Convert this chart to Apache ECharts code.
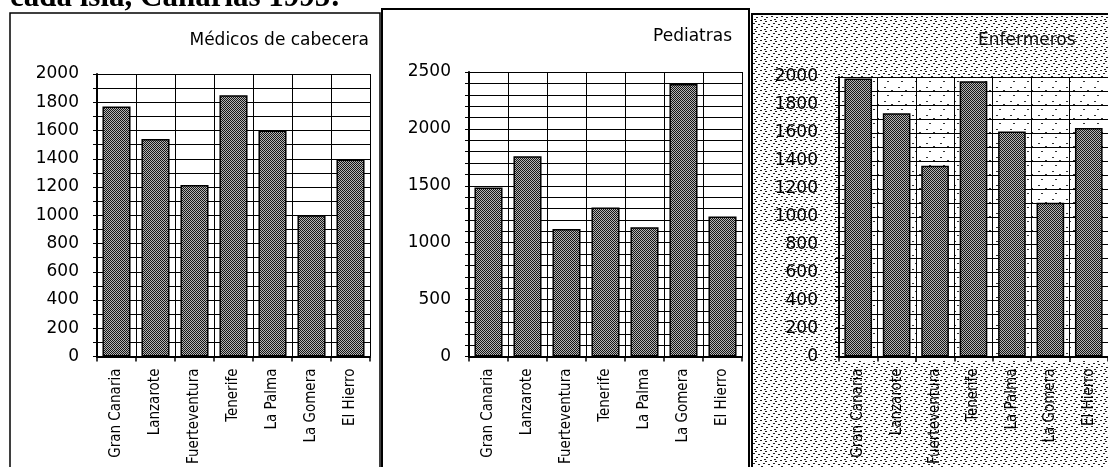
<!DOCTYPE html>
<html><head><meta charset="utf-8">
<script src="https://cdn.jsdelivr.net/npm/echarts@6/dist/echarts.min.js"></script>
<style>html,body{margin:0;padding:0;background:#fff;overflow:hidden}#c{width:1108px;height:467px}</style>
</head><body><div id="c"></div>
<script>
const islands = ['Gran Canaria','Lanzarote','Fuerteventura','Tenerife','La Palma','La Gomera','El Hierro'];
const medicos = [1770,1540,1215,1850,1600,1000,1395];
const pediatras = [1485,1760,1120,1310,1135,2395,1230];
const enfermeros = [1990,1740,1365,1970,1610,1100,1635];
const panelTitles = ['Médicos de cabecera','Pediatras','Enfermeros'];
const yMax = [2000,2500,2000];
const yLabelStep = [200,500,200];
const yMinorStep = 100;
const pageTitle = 'cada isla, Canarias 1995:';

function makePattern(size, bg, fg, pts, w, h){
  const c=document.createElement('canvas'); c.width=c.height=size;
  const g=c.getContext('2d'); g.fillStyle=bg; g.fillRect(0,0,size,size);
  g.fillStyle=fg; pts.forEach(p=>g.fillRect(p[0],p[1],w||1,h||1)); return c;
}
const barTex = makePattern(2,'#b4b4b4','#151515',[[0,0],[1,1]]);
const stipple = makePattern(10,'#ffffff','#222222',[[0,0],[5,1],[3,3],[8,4],[1,6],[6,7],[4,9]],2,1);
const stippleLight = makePattern(14,'#ffffff','#333333',[[2,3],[9,6],[5,11]],2,1);

const seriesData = [medicos, pediatras, enfermeros];
const grids = [
  {left:97, top:74, width:273, height:289},
  {left:469, top:72, width:273, height:291},
  {left:839, top:77, width:275, height:286}
];
const narrow = '"Liberation Sans Narrow","DejaVu Sans Condensed","Arial Narrow",sans-serif';
const sans = '"DejaVu Sans","Liberation Sans",sans-serif';

const option = {
  animation:false,
  backgroundColor:'#fff',
  grid: grids.map(g=>Object.assign({containLabel:false},g)),
  xAxis: grids.map((g,i)=>({
    type:'category', gridIndex:i, data:islands, boundaryGap:true,
    axisLine:{show:true,lineStyle:{color:'#000',width:2}},
    axisTick:{show:true,length:5,lineStyle:{color:'#000',width:1.5}},
    splitLine:{show:true,lineStyle:{color:'#000',width:1}},
    axisLabel:{rotate:90,interval:0,margin:12,color:'#000',fontSize:15,fontFamily:narrow}
  })),
  yAxis: grids.map((g,i)=>({
    type:'value', gridIndex:i, min:0, max:yMax[i], interval:yMinorStep,
    axisLine:{show:true,lineStyle:{color:'#000',width:2}},
    axisTick:{show:true,length:4,lineStyle:{color:'#000',width:1}},
    splitLine:{show:true,lineStyle:{color:'#000',width:1}},
    axisLabel:{margin:i===2?21:18,color:'#000',fontSize:17,fontFamily:sans,
      formatter:v=>(v%yLabelStep[i]===0?String(v):'')}
  })),
  series: seriesData.map((d,i)=>({
    type:'bar', xAxisIndex:i, yAxisIndex:i, data:d, barCategoryGap:'28%',
    itemStyle:{color:{image:barTex,repeat:'repeat'},borderColor:'#000',borderWidth:1.5}
  })),
  graphic:[
    {type:'rect',z:-10,shape:{x:752,y:14,width:380,height:480},style:{fill:{image:stipple,repeat:'repeat'}}},
    {type:'rect',z:-9,shape:{x:839,y:77,width:275,height:286},style:{fill:{image:stippleLight,repeat:'repeat'}}},
    {type:'rect',z:50,shape:{x:10,y:13,width:370,height:480},style:{fill:'none',stroke:'#000',lineWidth:1.5}},
    {type:'rect',z:50,shape:{x:382,y:9,width:367,height:480},style:{fill:'none',stroke:'#000',lineWidth:2}},
    {type:'rect',z:50,shape:{x:752,y:14,width:380,height:480},style:{fill:'none',stroke:'#000',lineWidth:2}},
    {type:'text',z:50,style:{text:panelTitles[0],x:369,y:41,align:'right',verticalAlign:'middle',font:'17px '+sans,fill:'#000'}},
    {type:'text',z:50,style:{text:panelTitles[1],x:732,y:37,align:'right',verticalAlign:'middle',font:'17px '+sans,fill:'#000'}},
    {type:'text',z:50,style:{text:panelTitles[2],x:978,y:41,align:'left',verticalAlign:'middle',font:'17px '+sans,fill:'#111'}},
    {type:'text',z:50,style:{text:pageTitle,x:10,y:13,align:'left',verticalAlign:'bottom',font:'bold 31px "Liberation Serif","DejaVu Serif",serif',fill:'#000'}}
  ]
};
const chart = echarts.init(document.getElementById('c'));
chart.setOption(option);
</script></body></html>
